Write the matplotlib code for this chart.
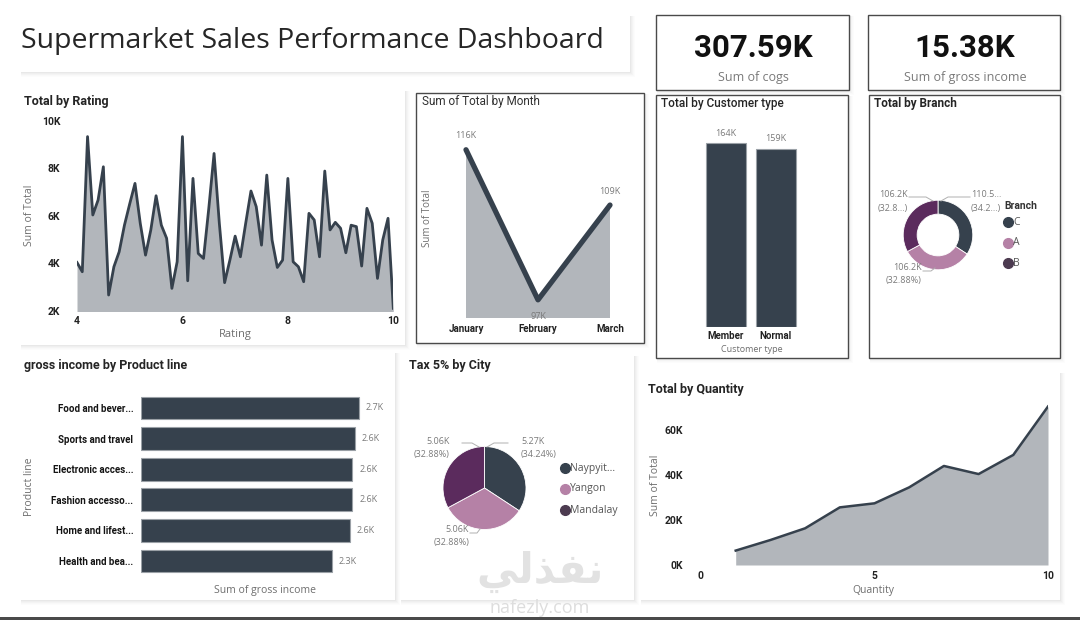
import matplotlib
matplotlib.use("Agg")
import matplotlib.pyplot as plt
from matplotlib.patches import Rectangle
from matplotlib.lines import Line2D
from matplotlib.ticker import FuncFormatter

# ---------------- DATA ----------------
rating = [4.0, 4.1, 4.2, 4.3, 4.4, 4.5, 4.6, 4.7, 4.8, 4.9,
          5.0, 5.1, 5.2, 5.3, 5.4, 5.5, 5.6, 5.7, 5.8, 5.9,
          6.0, 6.1, 6.2, 6.3, 6.4, 6.5, 6.6, 6.7, 6.8, 6.9,
          7.0, 7.1, 7.2, 7.3, 7.4, 7.5, 7.6, 7.7, 7.8, 7.9,
          8.0, 8.1, 8.2, 8.3, 8.4, 8.5, 8.6, 8.7, 8.8, 8.9,
          9.0, 9.1, 9.2, 9.3, 9.4, 9.5, 9.6, 9.7, 9.8, 9.9, 10.0]
total_by_rating = [4.03, 3.64, 9.33, 6.03, 6.66, 8.06, 2.66, 3.85, 4.48, 5.60,
                   6.50, 7.36, 5.68, 4.34, 5.40, 6.84, 5.60, 5.05, 2.94, 4.06,
                   9.33, 3.26, 7.57, 4.41, 4.20, 6.31, 8.62, 5.68, 3.18, 4.13,
                   5.14, 4.27, 5.68, 7.04, 6.38, 4.76, 7.71, 4.98, 3.82, 4.13,
                   7.57, 4.06, 3.85, 3.22, 6.10, 5.82, 4.27, 7.88, 5.40, 5.72,
                   5.47, 4.44, 5.60, 5.54, 3.88, 6.31, 5.68, 3.36, 4.98, 5.89, 2.10]  # K

months = ["January", "February", "March"]
total_by_month = [116, 97, 109]  # K

customer_types = ["Member", "Normal"]
total_by_customer = [164, 159]  # K

branches = ["C", "A", "B"]
total_by_branch = [110.5, 106.2, 106.2]  # K
branch_labels = [("110.5...", "(34.2...)"), ("106.2K", "(32.88%)"), ("106.2K", "(32.8...)")]

product_lines = ["Food and bever...", "Sports and travel", "Electronic acces...",
                 "Fashion accesso...", "Home and lifest...", "Health and bea..."]
gross_income = [2.67, 2.62, 2.59, 2.59, 2.56, 2.34]  # K

cities = ["Naypyit...", "Yangon", "Mandalay"]
tax_by_city = [5.27, 5.06, 5.06]  # K
city_pct = ["34.24%", "32.88%", "32.88%"]

quantity = [1, 2, 3, 4, 5, 6, 7, 8, 9, 10]
total_by_quantity = [6.4, 11.1, 16.3, 25.6, 27.4, 34.5, 44.0, 40.4, 48.9, 70.4]  # K

kpi_values = ["307.59K", "15.38K"]
kpi_labels = ["Sum of cogs", "Sum of gross income"]

# ---------------- STYLE ----------------
DARK = "#36414D"
FILLG = "#B2B6BB"
PINK = "#B581A6"
PURP = "#5B2B5D"
GREY = "#6E6E6E"
BOLDF = "Roboto"
LIGHTF = "Open Sans"

W, H = 1080, 620
fig = plt.figure(figsize=(W / 100, H / 100), dpi=100)
fig.patch.set_facecolor("white")


def add_ax(x0, y0, x1, y1):
    ax = fig.add_axes([x0 / W, 1 - y1 / H, (x1 - x0) / W, (y1 - y0) / H])
    ax.set_facecolor("none")
    for s in ax.spines.values():
        s.set_visible(False)
    ax.tick_params(length=0)
    return ax


def txt(x, y, s, **kw):
    kw.setdefault("va", "center")
    return fig.text(x / W, 1 - y / H, s, **kw)


def rect(x0, y0, x1, y1, fc="white", ec="none", lw=1.0, z=-10, alpha=1.0):
    fig.add_artist(Rectangle((x0 / W, 1 - y1 / H), (x1 - x0) / W, (y1 - y0) / H,
                             transform=fig.transFigure, fc=fc, ec=ec, lw=lw,
                             zorder=z, alpha=alpha))


def panel(x0, y0, x1, y1, border=False):
    for d, a in zip([1, 2, 3, 4, 5], [0.05, 0.04, 0.035, 0.025, 0.02]):
        rect(x0 + 1, y0 + 1, x1 + d, y1 + d, fc="#808080", z=-12, alpha=a)
    rect(x0, y0, x1, y1, fc="white", ec="#4A4A4A" if border else "none",
         lw=1.0, z=-11)


def fline(pts, color="#B0B0B0", lw=0.7):
    fig.add_artist(Line2D([p[0] / W for p in pts], [1 - p[1] / H for p in pts],
                          transform=fig.transFigure, color=color, lw=lw))


def fmarker(x, y, color, ms=7):
    fig.add_artist(Line2D([x / W], [1 - y / H], marker="o", ms=ms, color=color,
                          mec=color, transform=fig.transFigure, lw=0))


kfmt = FuncFormatter(lambda v, p: f"{v:.0f}K")

# ---------------- PANELS ----------------
panel(20, 15, 630, 72)
panel(20, 90, 405, 345)
panel(416, 93, 644, 343, border=True)
panel(656, 15, 849, 90, border=True)
panel(868, 15, 1060, 90, border=True)
panel(656, 95, 848, 358, border=True)
panel(869, 95, 1060, 358, border=True)
panel(20, 352, 395, 600)
panel(400, 355, 634, 600)
panel(640, 372, 1060, 600)
rect(0, 617, W, 620, fc="#4A4A4A", z=-5)

# ---------------- TITLE + KPI ----------------
txt(21, 41, "Supermarket Sales Performance Dashboard", fontsize=20.5,
    family=LIGHTF, color="#262626", ha="left")
for cx, v, l in zip([753, 965], kpi_values, kpi_labels):
    txt(cx, 48, v, fontsize=22.5, family=BOLDF, fontweight="bold", color="#111111", ha="center")
    txt(cx, 78, l, fontsize=9, family=LIGHTF, color="#7A7A7A", ha="center")

# ---------------- TOTAL BY RATING ----------------
txt(24, 101, "Total by Rating", fontsize=9, family=BOLDF, fontweight="bold", color="#252525")
ax = add_ax(77, 120.7, 393.3, 310.7)
ax.fill_between(rating, total_by_rating, 0, color=FILLG, lw=0)
ax.plot(rating, total_by_rating, color=DARK, lw=2.0)
ax.set_xlim(4, 10)
ax.set_ylim(2, 10)
ax.set_xticks([4, 6, 8, 10])
ax.set_yticks([2, 4, 6, 8, 10])
ax.yaxis.set_major_formatter(kfmt)
ax.tick_params(axis="y", pad=12)
ax.tick_params(axis="x", pad=4)
for t in ax.get_xticklabels() + ax.get_yticklabels():
    t.set_fontfamily(BOLDF); t.set_fontweight("bold"); t.set_fontsize(7.5); t.set_color("#222222")
txt(30, 215, "Sum of Total", rotation=90, fontsize=7.5, family=LIGHTF, color=GREY, ha="center")
txt(235, 335, "Rating", fontsize=8, family=LIGHTF, color=GREY, ha="center")

# ---------------- SUM OF TOTAL BY MONTH ----------------
txt(422, 102, "Sum of Total by Month", fontsize=8.5, family=BOLDF, color="#303030")
ax = add_ax(466, 130, 610, 318)
xm = [0, 1, 2]
ax.fill_between(xm, total_by_month, 0, color=FILLG, lw=0)
ax.plot(xm, total_by_month, color=DARK, lw=3.8, solid_capstyle="round", clip_on=False)
ax.set_xlim(0, 2)
ax.set_ylim(94.7, 118.5)
ax.set_yticks([])
ax.set_xticks(xm)
ax.set_xticklabels(months)
ax.tick_params(axis="x", pad=4)
for t in ax.get_xticklabels():
    t.set_fontfamily(BOLDF); t.set_fontweight("bold"); t.set_fontsize(7); t.set_color("#222222")
offs = [10, -12, 10]
for x, v, o in zip(xm, total_by_month, offs):
    ax.annotate(f"{v}K", (x, v), xytext=(0, o), textcoords="offset points",
                ha="center", va="center", fontsize=6.5, family=LIGHTF, color="#7A7A7A",
                annotation_clip=False)
txt(428, 218, "Sum of Total", rotation=90, fontsize=7, family=LIGHTF, color=GREY, ha="center")

# ---------------- TOTAL BY CUSTOMER TYPE ----------------
txt(661, 104, "Total by Customer type", fontsize=8.5, family=BOLDF, fontweight="medium", color="#252525")
ax = add_ax(701, 120, 801, 327)
xc = [0, 1]
ax.bar(xc, total_by_customer, width=0.8, color=DARK, edgecolor="#9AA0A6", lw=0.8)
ax.set_xlim(-0.5, 1.5)
ax.set_ylim(0, 184.5)
ax.set_yticks([])
ax.set_xticks(xc)
ax.set_xticklabels(customer_types)
ax.tick_params(axis="x", pad=3)
for t in ax.get_xticklabels():
    t.set_fontfamily(BOLDF); t.set_fontweight("bold"); t.set_fontsize(7); t.set_color("#222222")
for x, v in zip(xc, total_by_customer):
    ax.annotate(f"{v}K", (x, v), xytext=(0, 7), textcoords="offset points",
                ha="center", va="center", fontsize=6.5, family=LIGHTF, color="#7A7A7A")
txt(752, 349, "Customer type", fontsize=6.5, family=LIGHTF, color=GREY, ha="center")

# ---------------- TOTAL BY BRANCH (donut) ----------------
txt(874, 104, "Total by Branch", fontsize=8.5, family=BOLDF, fontweight="bold", color="#252525")
ax = add_ax(898, 195, 978, 275)
ax.pie(total_by_branch, colors=[DARK, PINK, PURP], startangle=90, counterclock=False,
       radius=1.0, wedgeprops=dict(width=0.40, edgecolor="white", linewidth=0.6))
ax.set_xlim(-1.15, 1.15)
ax.set_ylim(-1.15, 1.15)
ax.set_aspect("equal")
lab_kw = dict(fontsize=6.5, family=LIGHTF, color="#7A7A7A")
txt(971, 194, branch_labels[0][0], ha="left", **lab_kw)
txt(971, 208, branch_labels[0][1], ha="left", **lab_kw)
txt(908, 194, branch_labels[2][0], ha="right", **lab_kw)
txt(908, 208, branch_labels[2][1], ha="right", **lab_kw)
txt(922, 268, branch_labels[1][0], ha="right", **lab_kw)
txt(922, 281, branch_labels[1][1], ha="right", **lab_kw)
fline([(941, 201), (948, 197), (970, 197)])
fline([(933, 201), (926, 197), (909, 197)])
fline([(923, 271), (931, 271), (935, 268)])
txt(1004, 206, "Branch", fontsize=7.5, family=BOLDF, fontweight="bold", color="#333333", ha="left")
for yy, b, c in zip([222, 243, 263], branches, [DARK, PINK, "#4C3B50"]):
    fmarker(1008, yy, c)
    txt(1013, yy, b, fontsize=7.5, family=LIGHTF, color="#555555", ha="left")

# ---------------- GROSS INCOME BY PRODUCT LINE ----------------
txt(24, 366, "gross income by Product line", fontsize=9, family=BOLDF, fontweight="bold", color="#252525")
ax = add_ax(141, 392.7, 395, 576.3)
yp = list(range(len(product_lines)))
ax.barh(yp, gross_income, height=0.75, color=DARK, edgecolor="#9AA0A6", lw=0.8)
ax.set_ylim(len(product_lines) - 0.5, -0.5)
ax.set_xlim(0, 3.115)
ax.set_xticks([])
ax.set_yticks(yp)
ax.set_yticklabels(product_lines)
ax.tick_params(axis="y", pad=5.5)
for t in ax.get_yticklabels():
    t.set_fontfamily(BOLDF); t.set_fontweight("bold"); t.set_fontsize(7); t.set_color("#151515")
for y, v in zip(yp, gross_income):
    ax.annotate(f"{v:.1f}K", (v, y), xytext=(5, 0), textcoords="offset points",
                ha="left", va="center", fontsize=6.5, family=LIGHTF, color="#7A7A7A")
txt(30, 487, "Product line", rotation=90, fontsize=7.5, family=LIGHTF, color=GREY, ha="center")
txt(265, 590, "Sum of gross income", fontsize=7.5, family=LIGHTF, color=GREY, ha="center")

# ---------------- TAX 5% BY CITY (pie) ----------------
txt(409, 366, "Tax 5% by City", fontsize=9, family=BOLDF, fontweight="bold", color="#252525")
ax = add_ax(436.5, 440, 532.5, 536)
ax.pie(tax_by_city, colors=[DARK, PINK, PURP], startangle=90, counterclock=False,
       radius=1.0, wedgeprops=dict(edgecolor="white", linewidth=0.6))
ax.set_xlim(-1.1566, 1.1566)
ax.set_ylim(-1.1566, 1.1566)
ax.set_aspect("equal")
txt(521, 442, f"{tax_by_city[0]:.2f}K", ha="left", **lab_kw)
txt(521, 455, f"({city_pct[0]})", ha="left", **lab_kw)
txt(450, 442, f"{tax_by_city[2]:.2f}K", ha="right", **lab_kw)
txt(450, 455, f"({city_pct[2]})", ha="right", **lab_kw)
txt(469, 530, f"{tax_by_city[1]:.2f}K", ha="right", **lab_kw)
txt(469, 543, f"({city_pct[1]})", ha="right", **lab_kw)
fline([(487, 447), (494, 443), (508, 443)])
fline([(479, 447), (472, 443), (462, 443)])
fline([(470, 533), (477, 533), (480, 529)])
for yy, c, n in zip([468, 489, 510], [DARK, PINK, "#4C3B50"], cities):
    fmarker(565, yy, c)
    txt(570, yy, n, fontsize=7.5, family=LIGHTF, color="#555555", ha="left")

# ---------------- TOTAL BY QUANTITY ----------------
txt(648, 389, "Total by Quantity", fontsize=9, family=BOLDF, fontweight="bold", color="#252525")
ax = add_ax(701, 400, 1048, 565)
ax.fill_between(quantity, total_by_quantity, 0, color=FILLG, lw=0)
ax.plot(quantity, total_by_quantity, color=DARK, lw=1.8)
ax.set_xlim(0, 10)
ax.set_ylim(0, 73.3)
ax.set_xticks([0, 5, 10])
ax.set_yticks([0, 20, 40, 60])
ax.yaxis.set_major_formatter(kfmt)
ax.tick_params(axis="y", pad=13)
ax.tick_params(axis="x", pad=4)
for t in ax.get_xticklabels() + ax.get_yticklabels():
    t.set_fontfamily(BOLDF); t.set_fontweight("bold"); t.set_fontsize(7.5); t.set_color("#222222")
txt(655, 485, "Sum of Total", rotation=90, fontsize=7.5, family=LIGHTF, color=GREY, ha="center")
txt(873, 590, "Quantity", fontsize=7.5, family=LIGHTF, color=GREY, ha="center")

# ---------------- WATERMARK ----------------
txt(540, 572, "\uFEF2\uFEDF\uFEAC\uFED4\uFEE7", fontsize=30, family="DejaVu Sans",
    fontweight="bold", color="#E2E2E2", ha="center", zorder=-1)
txt(540, 608, "nafezly.com", fontsize=13, family=LIGHTF, color="#DDDDDD", ha="center", zorder=-1)

fig.savefig("out.png", dpi=100, facecolor="white")
